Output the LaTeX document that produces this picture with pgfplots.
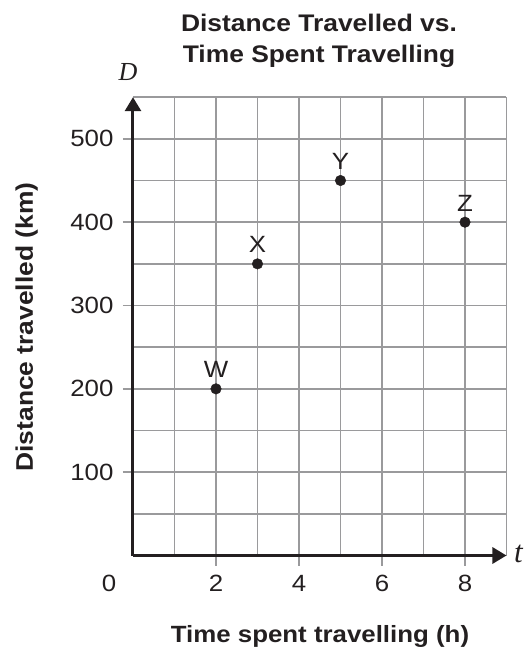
\documentclass[border=0pt]{standalone}
\usepackage{fontspec}
\setmainfont{Liberation Sans}[FakeStretch=1.1]
\newfontfamily\serifit{Liberation Serif}[ItalicFont={Liberation Serif Italic}]
\usepackage{pgfplots}
\pgfplotsset{compat=1.18}
\usetikzlibrary{arrows.meta}
\definecolor{ink}{HTML}{231F20}
\definecolor{gridgray}{HTML}{9A9A9C}
\begin{document}
\begin{tikzpicture}[x=1pt,y=1pt]
\useasboundingbox (-133,-92.5) rectangle (390,555.5);
\begin{axis}[
  at={(0,0)}, anchor=south west,
  scale only axis, width=373.5pt, height=458.3pt,
  xmin=0, xmax=9, ymin=0, ymax=550,
  axis lines=left,
  axis line style={ink, line width=3pt, -{Triangle[length=14pt,width=16pt]}},
  xtick={2,4,6,8}, minor xtick={1,3,5,7,9},
  ytick={100,200,300,400,500}, minor ytick={50,150,250,350,450,550},
  grid=both,
  major grid style={gridgray, line width=1.4pt},
  minor grid style={gridgray, line width=1.4pt},
  tick align=outside,
  major tick length=10pt, minor tick length=0pt,
  tick style={gridgray, line width=1.4pt},
  /pgf/number format/assume math mode=true,
  tick label style={font=\fontsize{23.5}{26}\selectfont, text=ink},
  xticklabel style={anchor=center, yshift=-18pt},
  yticklabel style={anchor=east, xshift=-6pt},
  clip=false,
]
\addplot[only marks, mark=*, mark size=5.3pt, color=ink,
  nodes near coords, point meta=explicit symbolic,
  every node near coord/.style={anchor=center, yshift=19pt, font=\fontsize{23.5}{26}\selectfont, text=ink}]
  coordinates {(2,200)[W] (3,350)[X] (5,450)[Y] (8,400)[Z]};
\end{axis}
\node[anchor=center, text=ink, font=\fontsize{23.5}{26}\selectfont] at (-24,-27.5) {0};
\node[anchor=base, text=ink, font=\fontsize{24}{26}\selectfont\bfseries] at (186,523.5) {Distance Travelled vs.};
\node[anchor=base, text=ink, font=\fontsize{24}{26}\selectfont\bfseries] at (186,492.5) {Time Spent Travelling};
\node[anchor=center, text=ink, font=\fontsize{26}{28}\serifit\itshape] at (-5,483.5) {D};
\node[anchor=base west, text=ink, font=\fontsize{31}{34}\serifit\itshape, inner sep=0pt] at (381,-6.5) {t};
\node[anchor=base, text=ink, font=\fontsize{23.5}{26}\selectfont\bfseries] at (187,-87.2) {Time spent travelling (h)};
\node[anchor=base, rotate=90, text=ink, font=\fontsize{24}{26}\selectfont\bfseries] at (-100,228.5) {Distance travelled (km)};
\end{tikzpicture}
\end{document}
